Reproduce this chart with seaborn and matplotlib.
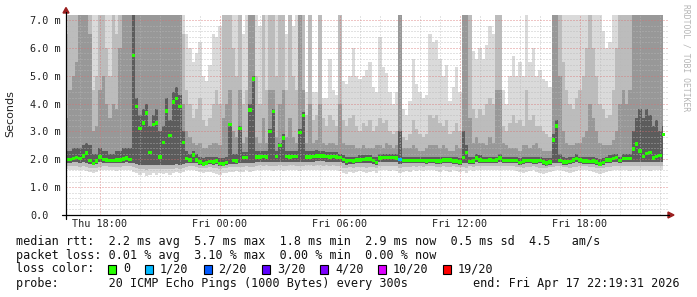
import numpy as np
import pandas as pd
import matplotlib
matplotlib.use("Agg")
import matplotlib.pyplot as plt
import matplotlib.dates as mdates
from matplotlib.ticker import FixedLocator, MultipleLocator
from matplotlib.patches import Rectangle, Polygon
from matplotlib.lines import Line2D
import seaborn as sns

# ---------------- data ----------------
start_time = "2026-04-16 16:20"
step_minutes = 10

median_rtt = [
    2.00, 2.00, 2.03, 2.06, 2.03, 2.12, 2.22, 1.95, 1.85, 1.93,
    2.08, 2.00, 1.98, 1.96, 1.95, 1.97, 1.97, 2.02, 2.05, 2.00,
    5.72, 3.89, 3.10, 3.30, 3.67, 2.25, 3.25, 3.30, 2.08, 2.60,
    3.74, 2.85, 4.05, 4.18, 3.90, 2.60, 2.03, 1.97, 2.15, 1.97,
    1.90, 1.83, 1.87, 1.92, 1.90, 1.93, 1.85, 1.83, 1.88, 3.25,
    1.95, 1.93, 3.11, 2.07, 2.07, 3.77, 4.88, 2.09, 2.09, 2.10,
    2.08, 2.99, 3.71, 2.10, 2.49, 2.77, 2.10, 2.09, 2.10, 2.10,
    2.96, 3.57, 2.08, 2.08, 2.10, 2.12, 2.11, 2.12, 2.10, 2.09,
    2.10, 2.08, 2.07, 2.00, 1.93, 1.96, 1.94, 1.97, 1.98, 2.00,
    2.02, 2.02, 1.95, 1.89, 2.05, 2.07, 2.07, 2.06, 2.06, 2.05,
    1.99, 1.95, 1.95, 1.96, 1.95, 1.95, 1.96, 1.95, 1.94, 1.95,
    1.95, 1.93, 1.93, 1.97, 1.98, 1.97, 1.93, 1.93, 1.90, 2.07,
    2.25, 1.92, 1.93, 2.05, 1.98, 1.96, 1.96, 1.97, 1.96, 1.97,
    2.05, 1.95, 1.95, 1.96, 1.95, 1.95, 1.89, 1.93, 1.96, 1.95,
    1.93, 1.93, 1.96, 1.90, 1.87, 1.90, 2.69, 3.19, 1.95, 1.90,
    1.90, 1.92, 1.97, 2.03, 1.97, 1.93, 1.93, 1.92, 1.93, 1.91,
    1.84, 1.89, 1.97, 1.98, 2.03, 2.07, 1.95, 2.03, 2.03, 2.03,
    2.36, 2.55, 2.30, 2.10, 2.20, 2.25, 2.05, 2.10, 2.13, 2.89,
]

# smoke: outermost (light) band top
smoke_hi_light = [
    7.2, 7.2, 7.2, 7.2, 7.2, 7.2, 7.2, 7.2, 7.2, 7.2,
    7.2, 7.2, 7.2, 7.2, 7.2, 7.2, 7.2, 7.2, 7.2, 7.2,
    7.2, 7.2, 7.2, 7.2, 7.2, 7.2, 7.2, 7.2, 7.2, 7.2,
    7.2, 7.2, 7.2, 7.2, 7.2, 7.2, 6.5, 6.0, 5.5, 5.8,
    6.2, 5.0, 4.8, 5.4, 6.5, 6.4, 6.8, 7.2, 7.2, 7.2,
    7.2, 7.2, 7.2, 6.5, 7.2, 7.2, 7.2, 7.2, 6.8, 7.2,
    7.2, 7.2, 7.2, 7.2, 7.2, 7.2, 6.5, 7.2, 6.8, 7.2,
    7.2, 7.2, 4.4, 7.2, 4.4, 4.4, 7.2, 4.2, 4.2, 5.6,
    4.5, 4.3, 7.2, 4.8, 4.7, 5.0, 6.0, 5.0, 4.9, 5.0,
    5.2, 5.5, 4.6, 4.4, 6.4, 5.3, 5.1, 4.4, 4.0, 4.4,
    7.2, 3.8, 3.6, 4.1, 5.6, 4.7, 4.4, 4.2, 4.3, 6.5,
    6.2, 6.3, 5.6, 5.0, 5.4, 4.1, 4.6, 5.3, 4.4, 7.2,
    7.2, 7.2, 5.9, 5.6, 6.0, 5.6, 6.1, 6.8, 6.5, 7.2,
    7.2, 4.5, 4.0, 5.0, 5.7, 5.0, 5.5, 5.0, 7.2, 5.5,
    6.0, 5.0, 5.2, 4.9, 4.8, 4.6, 7.2, 7.2, 7.2, 7.2,
    7.2, 7.2, 7.2, 7.2, 7.2, 7.2, 7.2, 7.2, 7.2, 7.2,
    7.2, 6.6, 6.0, 6.2, 7.2, 7.2, 7.2, 7.2, 7.2, 7.2,
    7.2, 7.2, 7.2, 7.2, 7.2, 7.2, 7.2, 7.2, 7.2, 7.2,
]

smoke_hi_mid = [
    6.5, 7.2, 7.2, 7.2, 7.2, 7.2, 7.2, 7.2, 4.5, 5.0,
    7.2, 7.2, 6.0, 5.0, 7.2, 6.5, 7.2, 7.2, 7.2, 7.2,
    7.2, 7.2, 7.2, 7.2, 7.2, 7.2, 7.2, 7.2, 7.2, 7.2,
    7.2, 7.2, 7.2, 7.2, 7.2, 6.5, 4.5, 4.0, 3.5, 3.8,
    4.2, 3.4, 3.2, 3.5, 4.0, 4.5, 4.0, 7.2, 7.2, 7.2,
    6.0, 5.0, 7.2, 4.0, 4.5, 7.2, 7.2, 5.0, 4.0, 7.2,
    4.5, 7.2, 7.2, 5.0, 7.2, 7.2, 4.5, 7.2, 5.0, 4.5,
    7.2, 7.2, 3.6, 7.2, 3.4, 3.6, 7.2, 3.5, 3.2, 3.6,
    3.4, 3.2, 7.2, 3.4, 3.2, 3.5, 3.6, 3.2, 3.0, 3.3,
    3.2, 3.4, 3.0, 3.2, 3.5, 3.3, 3.4, 3.0, 2.9, 3.0,
    7.2, 2.8, 2.7, 2.9, 3.4, 3.1, 2.9, 2.8, 2.9, 3.6,
    3.5, 3.6, 3.3, 3.2, 3.4, 2.9, 3.0, 3.3, 3.0, 7.2,
    7.2, 7.2, 3.8, 3.5, 3.8, 3.6, 4.0, 4.2, 4.0, 7.2,
    7.2, 3.2, 3.0, 3.3, 3.6, 3.3, 3.4, 3.2, 4.5, 3.4,
    3.6, 3.2, 3.2, 3.0, 2.9, 2.8, 7.2, 7.2, 7.2, 5.5,
    4.5, 4.0, 3.8, 4.2, 4.5, 5.0, 6.0, 7.2, 6.0, 5.0,
    4.0, 3.8, 3.5, 3.6, 4.5, 6.0, 7.2, 7.2, 7.2, 7.2,
    7.2, 7.2, 7.2, 7.2, 7.2, 7.2, 7.2, 7.2, 7.2, 7.2,
]

smoke_hi_mdark = [
    3.5, 4.5, 5.0, 5.5, 7.2, 7.2, 7.2, 6.5, 3.0, 3.2,
    4.5, 5.0, 4.0, 3.5, 4.0, 3.8, 6.0, 7.2, 7.2, 7.2,
    7.2, 7.2, 7.2, 7.2, 7.2, 7.2, 7.2, 7.2, 7.2, 7.2,
    7.2, 7.2, 7.2, 7.2, 7.2, 4.0, 3.0, 2.8, 2.6, 2.5,
    2.6, 2.4, 2.4, 2.5, 2.6, 2.6, 2.5, 3.5, 4.0, 4.5,
    3.0, 2.8, 4.5, 2.6, 2.8, 7.2, 7.2, 2.8, 2.6, 3.5,
    2.6, 4.5, 4.5, 2.8, 4.0, 4.5, 2.8, 3.5, 2.8, 2.6,
    7.2, 4.5, 2.6, 4.0, 2.6, 2.7, 4.0, 2.6, 2.5, 2.6,
    2.6, 2.5, 4.0, 2.6, 2.5, 2.5, 2.5, 2.4, 2.4, 2.5,
    2.4, 2.4, 2.4, 2.5, 2.5, 2.4, 2.6, 2.5, 2.4, 2.5,
    7.2, 2.4, 2.4, 2.4, 2.5, 2.4, 2.3, 2.3, 2.4, 2.5,
    2.5, 2.5, 2.4, 2.5, 2.4, 2.3, 2.3, 2.5, 2.4, 7.2,
    7.2, 3.5, 2.6, 2.8, 2.6, 2.6, 2.5, 2.8, 2.6, 4.5,
    4.5, 2.6, 2.5, 2.4, 2.4, 2.4, 2.3, 2.5, 2.5, 2.4,
    2.5, 2.6, 2.4, 2.3, 2.3, 2.3, 7.2, 7.2, 5.0, 3.0,
    2.6, 2.5, 2.5, 2.6, 2.6, 2.8, 3.0, 4.0, 3.5, 3.0,
    2.6, 2.5, 2.5, 2.5, 2.7, 3.0, 4.0, 4.5, 4.0, 4.5,
    7.2, 7.2, 7.2, 7.2, 7.2, 7.2, 7.2, 7.2, 7.2, 7.2,
]

smoke_hi_dark = [
    2.3, 2.3, 2.4, 2.4, 2.4, 2.5, 2.6, 2.5, 2.2, 2.2,
    2.4, 2.3, 2.3, 2.2, 2.2, 2.3, 2.3, 2.4, 2.4, 2.4,
    7.2, 4.2, 3.6, 3.8, 4.0, 3.2, 3.6, 3.8, 3.0, 3.2,
    4.2, 3.4, 4.4, 4.6, 4.3, 3.0, 2.3, 2.2, 2.3, 2.2,
    2.1, 2.05, 2.1, 2.1, 2.1, 2.1, 2.05, 2.05, 2.1, 3.3,
    2.2, 2.2, 3.2, 2.25, 2.25, 4.0, 5.0, 2.3, 2.3, 2.3,
    2.3, 3.1, 3.8, 2.3, 2.6, 2.9, 2.3, 2.3, 2.3, 2.3,
    3.1, 3.7, 2.3, 2.3, 2.3, 2.35, 2.3, 2.3, 2.25, 2.25,
    2.25, 2.25, 2.2, 2.15, 2.1, 2.1, 2.1, 2.1, 2.15, 2.15,
    2.15, 2.15, 2.1, 2.1, 2.2, 2.2, 2.2, 2.2, 2.2, 2.2,
    3.0, 2.1, 2.1, 2.1, 2.1, 2.1, 2.1, 2.1, 2.1, 2.1,
    2.1, 2.1, 2.1, 2.1, 2.1, 2.1, 2.1, 2.1, 2.05, 3.0,
    2.5, 2.1, 2.1, 2.2, 2.15, 2.1, 2.1, 2.1, 2.1, 2.1,
    2.2, 2.1, 2.1, 2.1, 2.1, 2.1, 2.05, 2.1, 2.1, 2.1,
    2.1, 2.1, 2.1, 2.05, 2.05, 2.05, 2.9, 3.4, 2.2, 2.1,
    2.05, 2.1, 2.1, 2.2, 2.1, 2.1, 2.1, 2.1, 2.1, 2.05,
    2.0, 2.05, 2.1, 2.15, 2.2, 2.2, 2.1, 2.2, 2.2, 2.2,
    3.0, 3.5, 3.8, 3.5, 3.8, 3.6, 3.2, 3.4, 3.0, 3.2,
]

smoke_lo_light = [
    1.65, 1.62, 1.62, 1.60, 1.62, 1.60, 1.58, 1.55, 1.52, 1.55,
    1.60, 1.62, 1.60, 1.62, 1.60, 1.58, 1.60, 1.60, 1.62, 1.62,
    1.55, 1.50, 1.45, 1.50, 1.40, 1.45, 1.50, 1.45, 1.50, 1.48,
    1.50, 1.45, 1.50, 1.55, 1.50, 1.55, 1.60, 1.60, 1.62, 1.58,
    1.55, 1.52, 1.55, 1.55, 1.50, 1.48, 1.45, 1.50, 1.52, 1.55,
    1.55, 1.58, 1.55, 1.55, 1.60, 1.55, 1.58, 1.60, 1.62, 1.60,
    1.62, 1.60, 1.58, 1.60, 1.62, 1.58, 1.60, 1.62, 1.62, 1.60,
    1.58, 1.60, 1.62, 1.62, 1.60, 1.62, 1.62, 1.60, 1.62, 1.60,
    1.62, 1.60, 1.58, 1.52, 1.48, 1.55, 1.50, 1.55, 1.58, 1.55,
    1.50, 1.55, 1.58, 1.52, 1.60, 1.62, 1.60, 1.58, 1.60, 1.58,
    1.50, 1.55, 1.58, 1.55, 1.60, 1.58, 1.60, 1.58, 1.60, 1.60,
    1.60, 1.58, 1.55, 1.60, 1.58, 1.55, 1.60, 1.58, 1.55, 1.58,
    1.52, 1.60, 1.58, 1.60, 1.62, 1.60, 1.62, 1.60, 1.60, 1.62,
    1.60, 1.62, 1.60, 1.62, 1.60, 1.58, 1.55, 1.50, 1.55, 1.58,
    1.60, 1.55, 1.50, 1.48, 1.52, 1.55, 1.58, 1.60, 1.62, 1.58,
    1.55, 1.52, 1.55, 1.58, 1.60, 1.62, 1.60, 1.58, 1.55, 1.52,
    1.48, 1.50, 1.55, 1.58, 1.60, 1.62, 1.60, 1.62, 1.60, 1.58,
    1.60, 1.62, 1.60, 1.62, 1.60, 1.58, 1.60, 1.62, 1.60, 1.62,
]

smoke_lo_mid = [
    1.76, 1.75, 1.76, 1.75, 1.74, 1.75, 1.72, 1.70, 1.68, 1.70,
    1.74, 1.76, 1.75, 1.74, 1.74, 1.73, 1.74, 1.75, 1.76, 1.75,
    1.72, 1.68, 1.65, 1.66, 1.62, 1.64, 1.66, 1.65, 1.66, 1.66,
    1.66, 1.64, 1.66, 1.68, 1.66, 1.70, 1.74, 1.75, 1.76, 1.74,
    1.70, 1.68, 1.70, 1.72, 1.70, 1.68, 1.66, 1.68, 1.70, 1.72,
    1.72, 1.74, 1.72, 1.74, 1.76, 1.72, 1.74, 1.76, 1.78, 1.76,
    1.78, 1.76, 1.75, 1.77, 1.78, 1.76, 1.77, 1.78, 1.78, 1.77,
    1.75, 1.76, 1.78, 1.78, 1.77, 1.78, 1.78, 1.77, 1.78, 1.77,
    1.78, 1.76, 1.75, 1.70, 1.68, 1.72, 1.70, 1.72, 1.74, 1.72,
    1.70, 1.72, 1.74, 1.70, 1.75, 1.77, 1.76, 1.75, 1.76, 1.75,
    1.68, 1.72, 1.74, 1.72, 1.75, 1.74, 1.75, 1.74, 1.75, 1.75,
    1.75, 1.74, 1.72, 1.75, 1.74, 1.72, 1.75, 1.74, 1.72, 1.74,
    1.70, 1.75, 1.74, 1.76, 1.77, 1.76, 1.77, 1.76, 1.76, 1.77,
    1.76, 1.77, 1.76, 1.77, 1.76, 1.74, 1.72, 1.70, 1.72, 1.74,
    1.75, 1.72, 1.70, 1.68, 1.70, 1.72, 1.74, 1.75, 1.76, 1.74,
    1.72, 1.70, 1.72, 1.74, 1.75, 1.76, 1.75, 1.74, 1.72, 1.70,
    1.68, 1.70, 1.72, 1.74, 1.75, 1.77, 1.75, 1.77, 1.76, 1.75,
    1.76, 1.77, 1.76, 1.77, 1.76, 1.75, 1.76, 1.77, 1.76, 1.77,
]

smoke_lo_dark = [
    1.88, 1.88, 1.90, 1.90, 1.88, 1.90, 1.88, 1.84, 1.78, 1.82,
    1.90, 1.88, 1.87, 1.86, 1.85, 1.86, 1.86, 1.88, 1.90, 1.88,
    1.85, 1.82, 1.80, 1.80, 1.78, 1.80, 1.80, 1.80, 1.80, 1.80,
    1.80, 1.80, 1.80, 1.82, 1.80, 1.82, 1.86, 1.86, 1.88, 1.86,
    1.80, 1.76, 1.78, 1.82, 1.80, 1.82, 1.76, 1.75, 1.78, 1.82,
    1.84, 1.84, 1.85, 1.88, 1.88, 1.85, 1.88, 1.90, 1.92, 1.92,
    1.92, 1.90, 1.90, 1.92, 1.92, 1.90, 1.92, 1.92, 1.92, 1.92,
    1.90, 1.90, 1.92, 1.92, 1.92, 1.93, 1.93, 1.93, 1.92, 1.92,
    1.92, 1.90, 1.90, 1.85, 1.80, 1.84, 1.82, 1.85, 1.86, 1.88,
    1.88, 1.88, 1.84, 1.78, 1.90, 1.92, 1.92, 1.91, 1.91, 1.90,
    1.84, 1.85, 1.85, 1.86, 1.85, 1.85, 1.86, 1.85, 1.84, 1.85,
    1.85, 1.83, 1.83, 1.86, 1.87, 1.86, 1.83, 1.83, 1.80, 1.88,
    1.85, 1.82, 1.83, 1.90, 1.87, 1.86, 1.86, 1.87, 1.86, 1.87,
    1.90, 1.85, 1.85, 1.86, 1.85, 1.85, 1.80, 1.83, 1.86, 1.85,
    1.83, 1.83, 1.85, 1.80, 1.77, 1.80, 1.85, 1.85, 1.85, 1.80,
    1.80, 1.82, 1.86, 1.90, 1.86, 1.83, 1.83, 1.82, 1.83, 1.81,
    1.75, 1.79, 1.86, 1.88, 1.90, 1.92, 1.85, 1.90, 1.90, 1.90,
    1.90, 1.90, 1.90, 1.92, 1.90, 1.90, 1.92, 1.92, 1.92, 1.92,
]

loss_steps = [100]          # index of steps with packet loss
loss_counts = [1]           # lost pings (of 20) at those steps

y_ticks = [0, 1, 2, 3, 4, 5, 6, 7]
y_tick_labels = ["0.0", "1.0 m", "2.0 m", "3.0 m", "4.0 m", "5.0 m", "6.0 m", "7.0 m"]
x_tick_times = ["2026-04-16 18:00", "2026-04-17 00:00", "2026-04-17 06:00",
                "2026-04-17 12:00", "2026-04-17 18:00"]
x_tick_labels = ["Thu 18:00", "Fri 00:00", "Fri 06:00", "Fri 12:00", "Fri 18:00"]

loss_labels = ["0", "1/20", "2/20", "3/20", "4/20", "10/20", "19/20"]
loss_colors = ["#26ff00", "#00b8ff", "#0059ff", "#5e00ff", "#7e00ff", "#dd00ff", "#ff0000"]

legend_lines = [
    "median rtt:  2.2 ms avg  5.7 ms max  1.8 ms min  2.9 ms now  0.5 ms sd  4.5   am/s",
    "packet loss: 0.01 % avg  3.10 % max  0.00 % min  0.00 % now",
    "loss color:",
    "probe:       20 ICMP Echo Pings (1000 Bytes) every 300s",
]
end_text = "end: Fri Apr 17 22:19:31 2026"

# ---------------- style ----------------
sns.set_theme(style="white")
plt.rcParams['font.family'] = ['DejaVu Sans Mono', 'DejaVu Sans']

W, H = 697, 297
fig = plt.figure(figsize=(W / 100, H / 100), dpi=100, facecolor="white")
ax = fig.add_axes([66 / W, 82 / H, 602 / W, 200 / H])
ax.set_facecolor("white")

times = pd.date_range(start_time, periods=len(median_rtt), freq=f"{step_minutes}min")
t = times.to_numpy()

bands = [
    (smoke_lo_light, smoke_hi_light, "#dadada"),
    (smoke_lo_mid, smoke_hi_mid, "#bcbcbc"),
    (smoke_lo_dark, smoke_hi_mdark, "#989898"),
    (smoke_lo_dark, smoke_hi_dark, "#5c5c5c"),
]
for lo, hi, col in bands:
    ax.fill_between(t, lo, hi, step="mid", color=col, linewidth=0,
                    antialiased=False, zorder=1)

loss = np.zeros(len(median_rtt), dtype=int)
loss[loss_steps] = loss_counts
loss_name = {0: "0", 1: "1/20", 2: "2/20", 3: "3/20", 4: "4/20", 10: "10/20", 19: "19/20"}
df = pd.DataFrame({"time": times, "median": median_rtt,
                   "loss": [loss_name[v] for v in loss]})
sns.scatterplot(data=df, x="time", y="median", hue="loss",
                palette=dict(zip(loss_labels, loss_colors)),
                marker="s", s=6.5, linewidth=0, legend=False, ax=ax, zorder=4)

ax.set_xlim(pd.Timestamp("2026-04-16 16:18"), pd.Timestamp("2026-04-17 22:24"))
ax.set_ylim(0, 7.18)

ax.xaxis.set_major_locator(FixedLocator(mdates.date2num(pd.to_datetime(x_tick_times))))
ax.xaxis.set_minor_locator(mdates.HourLocator())
ax.set_xticklabels(x_tick_labels)
ax.yaxis.set_major_locator(FixedLocator(y_ticks))
ax.yaxis.set_minor_locator(MultipleLocator(0.2))
ax.set_yticklabels(y_tick_labels)
for lab in ax.get_yticklabels():
    lab.set_horizontalalignment("left")

ax.set_axisbelow(False)
ax.grid(which="minor", color="#b8b8b8", linestyle=(0, (1, 2)), linewidth=0.72,
        alpha=0.8, zorder=2)
ax.grid(which="major", color="#d87070", linestyle=(0, (1, 2)), linewidth=0.72,
        alpha=0.8, zorder=2)

ax.tick_params(axis="both", which="both", length=0, labelsize=7.3, colors="#222222")
ax.tick_params(axis="y", pad=26)
ax.tick_params(axis="x", pad=3)
ax.set_xlabel("")
ax.set_ylabel("")
for s in ax.spines.values():
    s.set_visible(False)


def fx(x):
    return x / W


def fy(y):
    return 1 - y / H


# axis lines and arrows
fig.add_artist(Line2D([fx(66), fx(66)], [fy(219), fy(12)], color="black", lw=0.9))
fig.add_artist(Line2D([fx(62), fx(669)], [fy(215), fy(215)], color="black", lw=0.9))
fig.add_artist(Polygon([[fx(63), fy(13)], [fx(69), fy(13)], [fx(66), fy(7.5)]],
                       closed=True, color="#9a1f1f", transform=fig.transFigure))
fig.add_artist(Polygon([[fx(668), fy(212)], [fx(668), fy(218)], [fx(674), fy(215)]],
                       closed=True, color="#9a1f1f", transform=fig.transFigure))

# y label
fig.text(fx(10), fy(114), "Seconds", rotation=90, ha="center", va="center",
         family="DejaVu Sans", size=8, color="#222222")

# watermark
fig.text(fx(686), fy(4), "RRDTOOL / TOBI OETIKER", rotation=270, ha="center", va="top",
         family="DejaVu Sans Mono", size=5.8, color="#b4b4b4")

# legend lines
line_y = [241, 255, 269, 283]
for txt, yy in zip(legend_lines, line_y):
    fig.text(fx(16), fy(yy), txt, ha="left", va="center", size=8.5,
             family="DejaVu Sans Mono", color="#111111")
fig.text(fx(680), fy(283), end_text, ha="right", va="center", size=8.5,
         family="DejaVu Sans Mono", color="#111111")

box_x = [108, 145, 203.5, 262, 320, 378, 443]
for bx, lab, col in zip(box_x, loss_labels, loss_colors):
    fig.add_artist(Rectangle((fx(bx), fy(274)), 8 / W, 9.5 / H, transform=fig.transFigure,
                             facecolor=col, edgecolor="black", linewidth=0.8))
    fig.text(fx(bx + 15), fy(269), lab, ha="left", va="center", size=8.5,
             family="DejaVu Sans Mono", color="#111111")

fig.savefig("out.png", dpi=100, facecolor="white")
